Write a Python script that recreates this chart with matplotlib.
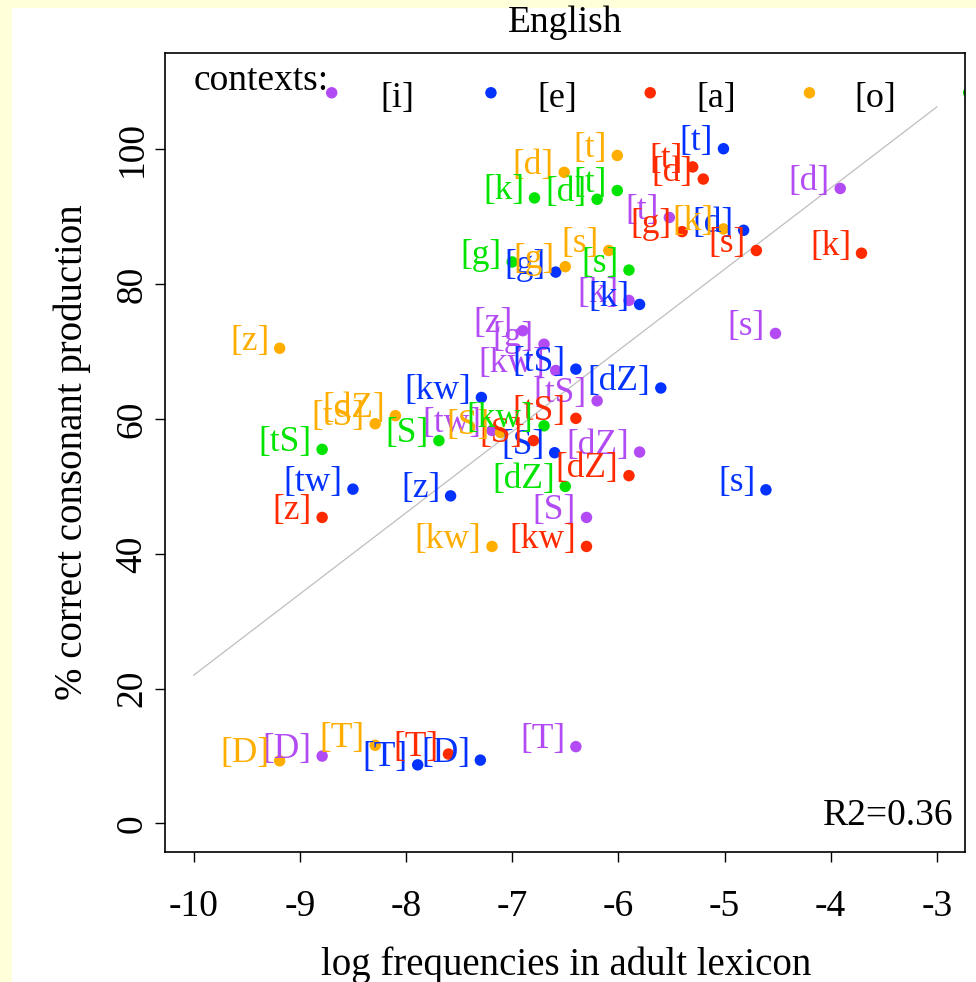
import matplotlib
matplotlib.use('Agg')
import matplotlib.pyplot as plt
from matplotlib.patches import Rectangle

plt.rcParams['font.family'] = ['Liberation Serif', 'DejaVu Serif']

# ---------------- data ----------------
title = "English"
xlabel = "log frequencies in adult lexicon"
ylabel = "% correct consonant production"
r2_text = "R2=0.36"
legend_title = "contexts:"

contexts = ['[i]', '[e]', '[a]', '[o]', '[u]']
context_colors = ['#B24BF3', '#0433FF', '#FF2A00', '#FFAE00', '#00E400']
legend_x = [-8.7, -7.2, -5.7, -4.2, -2.7]
legend_y = 108.4

# context [i] (purple)
cons_i = ['t', 'd', 'k', 'g', 's', 'z', 'kw', 'tS', 'dZ', 'S', 'tw', 'T', 'D']
x_i = [-5.52, -3.91, -5.90, -6.70, -4.52, -6.90, -6.59, -6.20, -5.80, -6.30, -7.19, -6.40, -8.79]
y_i = [89.9, 94.2, 77.6, 71.1, 72.7, 73.1, 67.2, 62.7, 55.1, 45.4, 58.3, 11.4, 10.0]

# context [e] (blue)
cons_e = ['t', 'd', 'g', 'k', 's', 'z', 'S', 'tS', 'dZ', 'kw', 'tw', 'T', 'D']
x_e = [-5.01, -4.82, -6.59, -5.80, -4.61, -7.58, -6.60, -6.40, -5.60, -7.29, -8.50, -7.89, -7.30]
y_e = [100.1, 88.0, 81.8, 77.0, 49.5, 48.6, 55.0, 67.4, 64.6, 63.2, 49.6, 8.7, 9.4]

# context [a] (red)
cons_a = ['t', 'd', 'g', 's', 'k', 'tS', 'S', 'dZ', 'kw', 'z', 'T']
x_a = [-5.30, -5.20, -5.40, -4.70, -3.71, -6.40, -6.80, -5.90, -6.30, -8.79, -7.60]
y_a = [97.4, 95.6, 87.8, 85.0, 84.6, 60.1, 56.8, 51.6, 41.1, 45.4, 10.3]

# context [o] (orange)
cons_o = ['t', 'd', 'g', 's', 'k', 'z', 'tS', 'dZ', 'S', 'kw', 'T', 'D']
x_o = [-6.01, -6.51, -6.50, -6.09, -5.01, -9.19, -8.29, -8.10, -7.11, -7.19, -8.29, -9.19]
y_o = [99.1, 96.6, 82.6, 85.0, 88.2, 70.5, 59.3, 60.5, 58.0, 41.1, 11.6, 9.3]

# context [u] (green)
cons_u = ['k', 'd', 't', 'g', 's', 'tS', 'S', 'dZ', 'kw']
x_u = [-6.79, -6.20, -6.01, -7.00, -5.90, -8.79, -7.69, -6.50, -6.70]
y_u = [92.8, 92.6, 93.9, 83.3, 82.1, 55.5, 56.8, 50.0, 59.0]

# regression line end points
reg_x = [-10.0, -3.0]
reg_y = [22.0, 106.3]

xticks = [-10, -9, -8, -7, -6, -5, -4, -3]
yticks = [0, 20, 40, 60, 80, 100]

groups = [(cons_i, x_i, y_i), (cons_e, x_e, y_e), (cons_a, x_a, y_a),
          (cons_o, x_o, y_o), (cons_u, x_u, y_u)]

# ---------------- figure ----------------
W, H = 976, 982
fig = plt.figure(figsize=(W / 100, H / 100), dpi=100, facecolor='#FFFFD9')
fig.patches.append(Rectangle((12 / W, 0), 1, 1 - 8 / H, transform=fig.transFigure,
                             facecolor='white', edgecolor='none', zorder=-10))

ax = fig.add_axes([165 / W, 1 - 852 / H, 800 / W, 799 / H])
ax.set_zorder(1)
ax.set_facecolor('white')
ax.set_xlim(-10.27, -2.735)
ax.set_ylim(-4.23, 114.3)

for s in ax.spines.values():
    s.set_linewidth(1.2)
    s.set_color('black')

ax.plot(reg_x, reg_y, color='#BEBEBE', lw=0.9, zorder=1)

for (cons, xs, ys), col in zip(groups, context_colors):
    ax.scatter(xs, ys, s=68, color=col, edgecolors='none', zorder=2)
    for c, xv, yv in zip(cons, xs, ys):
        ax.annotate('[' + c + ']', (xv, yv), xytext=(-7.5, 5), textcoords='offset points',
                    ha='right', va='center', fontsize=25.5, color=col, zorder=3,
                    annotation_clip=True)

# legend row
ax.text(-10.0, 108.8, legend_title, ha='left', va='baseline', fontsize=27, color='black')
ax.scatter(legend_x, [legend_y] * len(legend_x), s=68, color=context_colors,
           edgecolors='none', zorder=2)
for lab, lx in zip(contexts, legend_x):
    ax.text(lx + 0.62, legend_y - 0.9, lab, ha='center', va='center', fontsize=26,
            color='black', clip_on=True)

ax.text(0.985, 0.034, r2_text, transform=ax.transAxes, ha='right', va='baseline',
        fontsize=27, color='black')

ax.set_xticks(xticks)
ax.set_xticklabels([str(v) for v in xticks])
ax.set_yticks(yticks)
ax.set_yticklabels([str(v) for v in yticks])
ax.tick_params(axis='both', direction='out', length=7, width=1.0, labelsize=27)
ax.tick_params(axis='x', pad=20)
ax.tick_params(axis='y', pad=4)
for t in ax.get_yticklabels():
    t.set_rotation(90)
    t.set_va('center')
    t.set_ha('right')

fig.text(565 / W, 1 - 32 / H, title, ha='center', va='baseline', fontsize=27)
fig.text(566 / W, 1 - 975 / H, xlabel, ha='center', va='baseline', fontsize=28)
fig.text(82 / W, 1 - 452 / H, ylabel, ha='center', va='baseline', fontsize=28,
         rotation=90, rotation_mode='anchor')

fig.savefig('out.png', dpi=100, facecolor=fig.get_facecolor())
